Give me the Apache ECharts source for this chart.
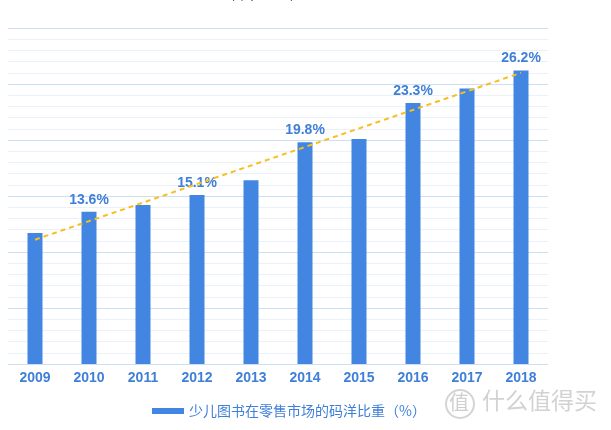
<!DOCTYPE html>
<html><head><meta charset="utf-8">
<script src="https://cdn.jsdelivr.net/npm/echarts@6/dist/echarts.min.js"></script>
<style>html,body{margin:0;padding:0;background:#fff}#c{width:611px;height:430px}</style>
</head><body><div id="c"></div>
<script>
const years = ['2009','2010','2011','2012','2013','2014','2015','2016','2017','2018'];
const shares = [11.7, 13.6, 14.2, 15.1, 16.4, 19.8, 20.1, 23.3, 24.6, 26.2];
const labeledYears = ['2010','2012','2014','2016','2018'];
const trendPoints = [['2009', 11.1], ['2018', 26.0]];
const seriesName = '少儿图书在零售市场的码洋比重（%）';

const chart = echarts.init(document.getElementById('c'));
const blue = '#4286E1';
const txtBlue = '#3F7FD8';
chart.setOption({
  animation: false,
  grid: {left: 8, top: 28, width: 540, height: 336, containLabel: false},
  xAxis: {
    type: 'category', data: years,
    axisLine: {show: false}, axisTick: {show: false},
    axisLabel: {color: txtBlue, fontWeight: 'bold', fontSize: 14, fontFamily: 'Liberation Sans, Arial', margin: 7}
  },
  yAxis: {
    type: 'value', min: 0, max: 30, interval: 5, show: true,
    axisLabel: {show: false}, axisLine: {show: false}, axisTick: {show: false},
    splitLine: {lineStyle: {color: '#CCDFF3', width: 1}},
    minorTick: {show: false, splitNumber: 5},
    minorSplitLine: {show: true, lineStyle: {color: '#EAF1FA', width: 1}}
  },
  legend: {
    bottom: 7, left: 147, itemWidth: 32, itemHeight: 6, itemGap: 4,
    data: [{name: seriesName, icon: 'rect'}],
    textStyle: {color: txtBlue, fontSize: 14, fontFamily: 'Noto Sans CJK SC'}
  },
  series: [
    {
      name: seriesName, type: 'bar', barWidth: 15,
      itemStyle: {color: blue},
      data: shares.map((v, i) => ({
        value: v,
        label: {show: labeledYears.includes(years[i])}
      })),
      label: {
        position: 'top', distance: 5, formatter: p => p.value.toFixed(1) + '%',
        color: txtBlue, fontWeight: 'bold', fontSize: 14, fontFamily: 'Liberation Sans, Arial'
      }
    },
    {
      name: 'trend', type: 'line', data: trendPoints, symbol: 'none', z: 5,
      lineStyle: {color: '#F7BE1E', width: 2, type: [5, 4]}
    }
  ],
  graphic: [
    {type: 'text', right: 307, top: -13, style: {text: '（单位：%）', fill: '#333', font: '14px "Noto Sans CJK SC"'}},
    {type: 'circle', shape: {cx: 460, cy: 404, r: 14}, style: {fill: 'none', stroke: '#d4d4d4', lineWidth: 2}},
    {type: 'text', left: 449, top: 392, style: {text: '值', fill: '#cfcfcf', font: '20px "Noto Sans CJK SC"'}},
    {type: 'text', left: 482, top: 389, style: {text: '什么值得买', fill: '#d2d2d2', font: '23px "Noto Sans CJK SC"'}}
  ]
});
</script></body></html>
